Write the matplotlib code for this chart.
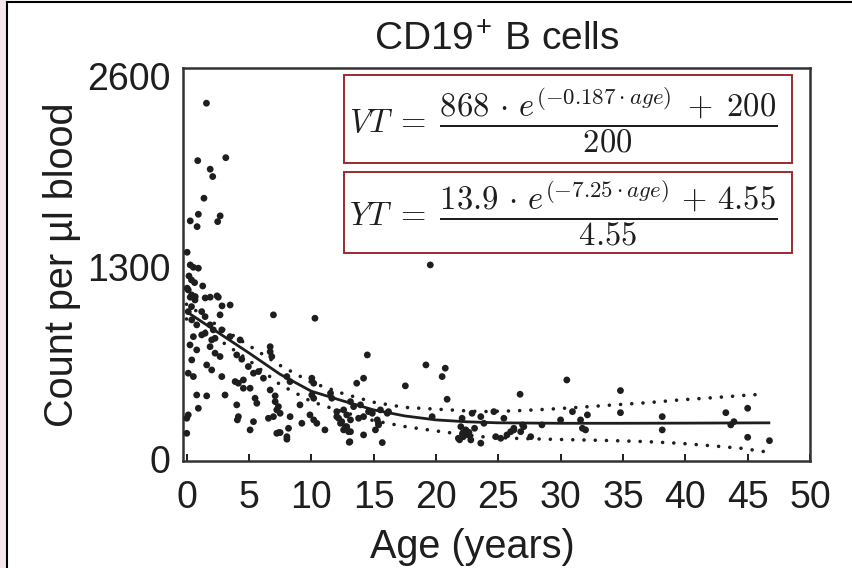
import matplotlib
matplotlib.use("Agg")
import matplotlib.pyplot as plt
from matplotlib.patches import Rectangle
from matplotlib.lines import Line2D

plt.rcParams['font.family'] = ['Liberation Sans', 'DejaVu Sans']
plt.rcParams['mathtext.fontset'] = 'cm'

# scatter: age (years), count per ul
ages = [1.6, 0.9, 3.15, 1.9, 2.1, 1.4, 0.95, 0.3, 0.85, 2.7, 2.5, 0.05, 0.3, 0.55, 0.95,
        0.2, 0.4, 0.65, 1.3, 0.05, 0.3, 0.7, 1.5, 1.9, 2.45, 2.55, 2.85, 3.5, 0.4,
        0.14, 0.42, 0.68, 0.14, 0.42, 0.82, 1.22, 1.49, 2.69, 6.97, 1.89, 2.15, 2.83,
        0.55, 1.22, 1.49, 2.02, 2.29, 3.49, 4.3, 0.28, 0.82, 1.89, 2.29, 2.69, 4.03,
        4.43, 4.96, 6.71, 6.71, 6.84, 0.42, 1.62, 2.02, 2.83, 0.14, 0.55, 3.9, 4.16,
        4.56, 5.37, 5.77, 6.17, 0.82, 1.62, 3.09, 4.56, 5.1, 6.71, 7.11, 0.95, 4.03,
        4.16, 4.08, 5.5, 5.64, 5.37, 5.1, 6.57, 6.97, 7.24, 7.51, 8.31, 8.18, 8.05,
        0.14, 0.02, 0.02, 7.11, 7.37, 9.25, 7.24, 7.51,
        19.55, 10.3, 14.5, 19.2, 20.75, 20.5, 17.55, 20.9, 14.2, 13.65, 10.05, 10.2,
        8.05, 8.3, 10.05, 10.2, 11.55, 11.65, 13.15, 13.4, 13.95, 12.6, 12.85, 13.15,
        12.85, 13.15, 12.05, 12.35, 13.05, 14.2, 14.6, 14.9, 15.55, 16.1, 15.4, 15.7,
        10.2, 10.45, 9.1, 11.1, 7.4, 8.05,
        22.0, 22.4, 22.6, 22.2, 22.8, 23.6, 21.8, 22.1, 22.9, 23.6, 23.85, 24.65, 19.7,
        26.75, 9.9, 12.05, 12.2, 12.45, 12.75, 12.6, 13.0, 13.1, 13.8, 14.2, 15.3,
        15.4, 15.15, 16.2, 22.15, 22.65, 23.1, 21.9, 24.8, 25.2, 25.7, 26.25, 26.8,
        27.05, 27.6, 25.45,
        30.5, 34.8, 34.8, 43.25, 45.0, 43.9, 43.65, 45.0, 46.75, 38.15, 38.15, 31.6,
        32.15, 31.75, 32.0, 30.95, 30.0, 28.5, 26.95, 26.25, 26.0]
counts = [2415, 2025, 2045, 1967, 1917, 1770, 1661, 1616, 1577, 1650, 1611, 1403, 1317,
          1301, 1295, 1242, 1215, 1197, 1174, 1159, 1098, 1102, 1093, 1098, 1107, 1098,
          1039, 1045, 1034,
          1147, 1113, 1079, 1000, 944, 910, 1000, 966, 978, 978, 910, 876, 876,
          830, 842, 853, 808, 819, 830, 808, 774, 740, 762, 718, 695, 706,
          677, 627, 762, 728, 695, 672, 638, 604, 559, 582, 559, 525, 514,
          536, 582, 593, 548, 434, 428, 434, 480, 480, 468, 428, 344, 367,
          287, 265, 412, 378, 253, 197, 276, 287, 333, 310, 287, 208, 151,
          299, 276, 174, 389, 355, 242, 174, 179,
          1317, 955, 706, 638, 616, 559, 496, 405, 548, 514, 548, 514,
          559, 525, 434, 412, 446, 412, 389, 355, 367, 333, 299, 265,
          219, 185, 287, 242, 113, 163, 321, 310, 333, 310, 242, 111,
          265, 242, 367, 197, 179, 134,
          219, 197, 163, 151, 129, 107, 140, 276, 310, 287, 242, 321, 287,
          439, 299, 321, 276, 253, 219, 197, 185, 117, 276, 287, 265,
          231, 197, 321, 176, 180, 208, 130, 151, 140, 163, 197, 185,
          219, 151, 276,
          536, 464, 314, 314, 344, 253, 231, 147, 124, 287, 197, 265,
          299, 208, 197, 321, 265, 231, 231, 208, 185]

# fitted curve and its confidence band
fit_age = [0, 2.5, 5, 7.5, 10, 12.5, 15, 17.5, 20, 22.5, 25, 30, 35, 40, 46.7]
fit_val = [1000, 860, 720, 575, 460, 395, 333, 292, 265, 252, 245, 242, 242, 243, 245]
band_age = [0, 2.5, 5, 7.5, 10, 12.5, 15, 17.5, 20, 23.6, 26.2, 28.9, 31.6, 34.3,
            37, 39.6, 42.3, 44.5, 46.3]
band_hi = [1050, 905, 770, 635, 520, 445, 385, 350, 338, 321, 326, 337, 351, 367,
           382, 401, 416, 430, 440]
band_lo = [950, 815, 670, 505, 390, 320, 260, 220, 190, 151, 140, 134, 129, 124,
           117, 106, 88, 72, 50]

eq_vt = r'$VT\;=\;\dfrac{868\,\cdot\,e^{(-0.187\cdot age)}\;+\;200}{200}$'
eq_yt = r'$YT\;=\;\dfrac{13.9\,\cdot\,e^{(-7.25\cdot age)}\,+\,4.55}{4.55}$'

ink = '#1e1e1e'
box_red = '#9c2a30'

fig = plt.figure(figsize=(8.52, 5.68), dpi=100)
ax = fig.add_axes([0.2148, 0.1884, 0.7359, 0.6919])

ax.scatter(ages, counts, s=24, color=ink, edgecolors='none', zorder=3)
ax.plot(fit_age, fit_val, color=ink, lw=2.0, zorder=4)
for band in (band_hi, band_lo):
    ax.plot(band_age, band, color=ink, lw=2.6, linestyle=(0, (0.01, 3.1)),
            dash_capstyle='round', zorder=4)

ax.set_xlim(-0.28, 50.0)
ax.set_ylim(-14, 2654)
ax.set_xticks(range(0, 51, 5))
ax.set_yticks([0, 1300, 2600])
ax.tick_params(axis='x', direction='in', length=5, width=1.4, pad=14,
               labelsize=27, colors=ink)
ax.tick_params(axis='y', length=0, pad=9, labelsize=27, colors=ink)
for sp in ax.spines.values():
    sp.set_linewidth(1.8)
    sp.set_color('#333333')

# equation boxes
for y0, h, eq in ((0.758, 0.224, eq_vt), (0.529, 0.206, eq_yt)):
    ax.add_patch(Rectangle((0.257, y0), 0.714, h, transform=ax.transAxes,
                           fill=False, edgecolor=box_red, lw=1.4, zorder=5))
    ax.text(0.265, y0 + h / 2, eq, transform=ax.transAxes, fontsize=23.5,
            ha='left', va='center', color=ink, zorder=6)

fig.text(497 / 852, 1 - 40 / 568, r'CD19$^{\mathregular{+}}$ B cells', fontsize=28,
         ha='center', va='center', color=ink)
fig.text(472 / 852, 1 - 547 / 568, 'Age (years)', fontsize=28.5,
         ha='center', va='center', color=ink)
fig.text(62 / 852, 1 - 265 / 568, 'Count per µl blood', fontsize=28.5, rotation=90,
         ha='center', va='center', color=ink)

# outer frame: pink strip with black edge on the left and top
fig.add_artist(Rectangle((0, 0), 6 / 852, 1, transform=fig.transFigure,
                         facecolor='#f3e9eb', edgecolor='none'))
fig.add_artist(Line2D([7 / 852, 7 / 852], [0, 1 - 2 / 568], transform=fig.transFigure,
                      color='black', lw=1.5))
fig.add_artist(Line2D([7 / 852, 1], [1 - 2 / 568, 1 - 2 / 568], transform=fig.transFigure,
                      color='black', lw=1.5))

fig.savefig('out.png', dpi=100)
